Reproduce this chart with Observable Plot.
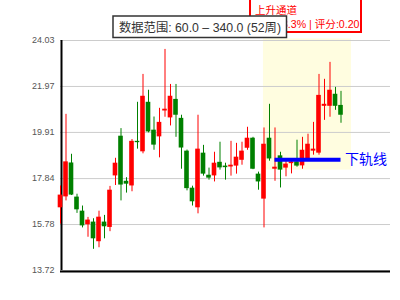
<!DOCTYPE html>
<html><head><meta charset="utf-8">
<script src="https://cdn.jsdelivr.net/npm/d3@7"></script>
<script src="https://cdn.jsdelivr.net/npm/@observablehq/plot@0.6"></script>
<style>
body{margin:0;background:#fff;}
#chart{width:400px;height:300px;overflow:hidden;}
</style>
</head><body><div id="chart"></div>
<script>
// 52 weekly candles
const weeks = d3.range(52);
const opens  = [16.53,17.02,18.54,17.01,16.38,15.77,15.89,15.01,15.89,15.65,17.96,19.74,17.72,17.51,19.51,19.04,21.26,20.01,19.71,20.87,20.56,21.39,20.54,19.07,17.41,16.53,18.98,17.99,17.96,18.57,18.40,18.36,18.40,18.66,19.20,19.65,18.04,16.92,19.65,18.26,18.86,18.31,18.51,18.59,18.41,18.72,19.07,18.98,21.08,21.08,21.62,21.12];
const closes = [17.10,18.59,17.10,16.44,15.72,15.98,15.14,16.11,15.68,17.32,18.53,17.55,17.59,19.51,19.45,21.53,19.93,19.34,20.36,20.95,21.53,20.68,19.21,17.39,16.80,19.16,18.04,17.86,18.53,18.32,18.33,18.44,18.80,19.07,19.65,18.26,17.69,19.38,18.72,18.35,18.22,18.49,18.59,18.40,19.11,19.38,19.16,21.57,21.17,21.80,21.08,20.68];
const highs  = [17.51,20.72,18.93,17.14,16.61,16.10,16.04,16.38,16.19,17.49,18.75,20.08,17.88,19.59,21.26,22.51,21.80,20.60,20.99,23.63,22.06,22.06,20.68,19.12,17.50,20.68,19.33,18.31,19.02,19.47,18.53,19.51,19.42,19.47,20.14,19.69,18.13,20.11,21.17,20.11,19.02,18.63,18.72,19.56,19.69,19.83,20.36,22.51,22.29,23.05,21.93,21.75];
const lows   = [15.80,16.84,17.08,16.28,15.63,15.21,14.67,14.74,15.14,15.46,17.53,16.84,17.19,17.25,19.16,18.95,19.89,19.11,18.77,20.59,20.20,19.69,18.26,17.29,16.61,16.26,17.95,17.77,17.69,18.22,17.77,17.95,18.04,18.44,19.11,18.24,17.32,15.63,18.62,17.72,17.42,17.92,18.05,18.35,18.26,18.69,18.89,18.89,20.45,20.59,20.90,20.32];

const yTicks = [13.72, 15.78, 17.84, 19.91, 21.97, 24.03];
const channelRegion = [{x1: 36.9, x2: 52.9, y1: 18.22, y2: 24.1}];
const lowerLine = [{x1: 39, x2: 51, y: 18.68, label: "下轨线"}];
const rangeLabel = "数据范围: 60.0 – 340.0 (52周)";
const channelTitle = "上升通道";
const channelInfo = "斜率:3.3% | 评分:0.20";

const data = weeks.map((w, i) => ({w, open: opens[i], close: closes[i], high: highs[i], low: lows[i]}));
const col = d => d.close >= d.open ? "#ff0000" : "#008000";

const plot = Plot.plot({
  width: 400, height: 300,
  marginLeft: 60, marginRight: 10, marginTop: 40, marginBottom: 30,
  x: {domain: [0, 60], axis: null},
  y: {domain: [13.72, 24.03], axis: null},
  color: {type: "identity"},
  style: {fontFamily: "'Liberation Sans', Arial, 'Noto Sans CJK SC', sans-serif", background: "transparent", overflow: "visible"},
  marks: [
    Plot.rect(channelRegion, {x1: "x1", x2: "x2", y1: "y1", y2: "y2", fill: "#fffde0"}),
    Plot.ruleY(yTicks, {stroke: "#cccccc", strokeWidth: 1}),
    Plot.axisY({ticks: yTicks, tickSize: 0, tickPadding: 6, tickFormat: d => d.toFixed(2), fontSize: 9, fill: "#555", label: null}),
    Plot.ruleX([0], {y1: 13.72, y2: 24.03, stroke: "black", strokeWidth: 2, dx: 1}),
    Plot.ruleY([13.72], {stroke: "black", strokeWidth: 2, dy: 1}),
    Plot.ruleX(data, {x: "w", y1: "low", y2: "high", stroke: col, strokeWidth: 1}),
    Plot.rect(data, {x1: d => d.w - 0.42, x2: d => d.w + 0.42, y1: "open", y2: "close", fill: col}),
    Plot.ruleY(lowerLine, {x1: "x1", x2: "x2", y: "y", stroke: "#0000ff", strokeWidth: 4}),
    Plot.text(lowerLine, {x: "x2", y: "y", text: "label", textAnchor: "start", dx: 4, fill: "#0000ff", fontSize: 14, fontFamily: "'Noto Sans CJK SC', sans-serif"})
  ]
});

const svg = d3.select(plot);
// channel info box (top right)
const g1 = svg.append("g");
g1.append("rect").attr("x", 250).attr("y", -10).attr("width", 111).attr("height", 42)
  .attr("fill", "white").attr("stroke", "red").attr("stroke-width", 2);
g1.append("text").attr("x", 255).attr("y", 13.5).attr("fill", "red").attr("text-anchor", "start")
  .attr("font-size", 10.5).attr("font-family", "'Noto Sans CJK SC', sans-serif").text(channelTitle);
g1.append("text").attr("x", 359.5).attr("y", 27.5).attr("fill", "red").attr("text-anchor", "end")
  .attr("font-size", 10.6).attr("font-family", "'Liberation Sans', Arial, 'Noto Sans CJK SC', sans-serif").text(channelInfo);
// data range box
const g2 = svg.append("g");
g2.append("rect").attr("x", 113).attr("y", 16).attr("width", 173.5).attr("height", 21.5)
  .attr("fill", "white").attr("stroke", "#333").attr("stroke-width", 1.5);
g2.append("text").attr("x", 200).attr("y", 31.5).attr("fill", "#333").attr("text-anchor", "middle")
  .attr("font-size", 12.3).attr("font-family", "'Liberation Sans', Arial, 'Noto Sans CJK SC', sans-serif").text(rangeLabel);

document.getElementById("chart").appendChild(plot);
</script>
</body></html>
